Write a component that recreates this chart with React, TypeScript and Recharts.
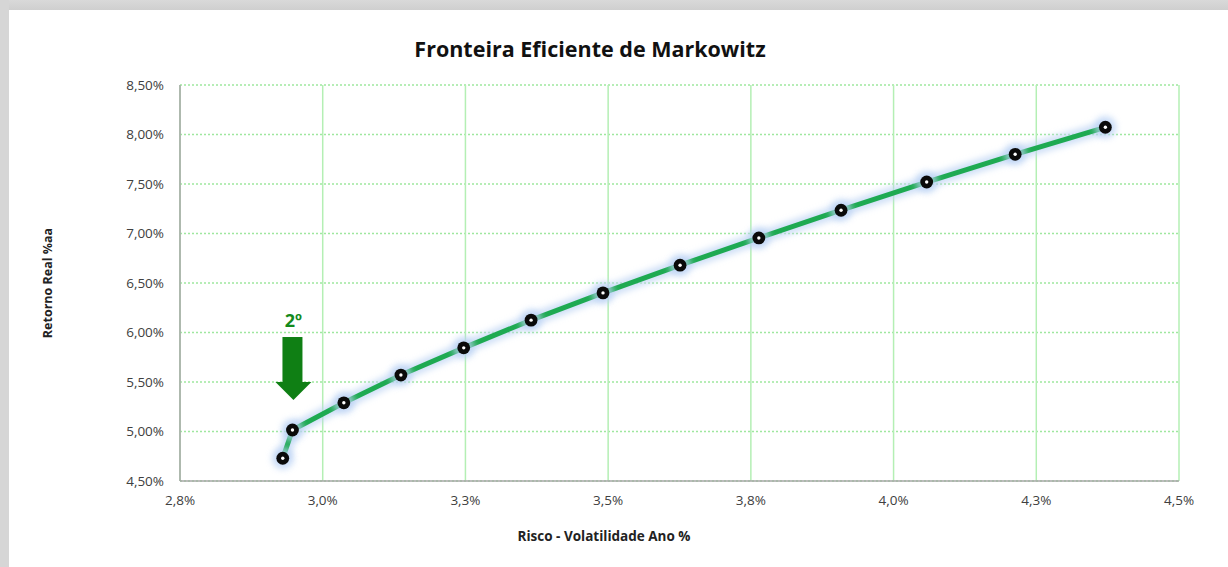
import {
  LineChart,
  Line,
  XAxis,
  YAxis,
  CartesianGrid,
  ReferenceDot,
} from 'recharts';

// risco (volatilidade % a.a.) e retorno real % a.a. de cada carteira
const RISCO = [2.93, 2.947, 3.037, 3.137, 3.247, 3.365, 3.491, 3.626, 3.764, 3.908, 4.058, 4.213, 4.371];
const RETORNO = [4.73, 5.015, 5.29, 5.57, 5.845, 6.125, 6.4, 6.68, 6.955, 7.235, 7.52, 7.8, 8.073];

const X_TICKS = [2.75, 3.0, 3.25, 3.5, 3.75, 4.0, 4.25, 4.5];
const Y_TICKS = [4.5, 5.0, 5.5, 6.0, 6.5, 7.0, 7.5, 8.0, 8.5];

// ponto destacado pela seta "2º"
const DESTAQUE = { x: RISCO[1], y: RETORNO[1], label: '2º' };

const data = RISCO.map((x, i) => ({ x, y: RETORNO[i] }));

const FONT = '"Open Sans", "Noto Sans", sans-serif';
const LINE_COLOR = '#1eaa52';
const GRID_COLOR = '#9fe79f';

const fmtX = (v: number) => v.toFixed(1).replace('.', ',') + '%';
const fmtY = (v: number) => v.toFixed(2).replace('.', ',') + '%';

const Dot = (props: any) => {
  const { cx, cy } = props;
  if (cx == null || cy == null) return null;
  return (
    <g>
      <circle cx={cx} cy={cy} r={11} fill="#b9d1f4" opacity={0.75} filter="url(#glow)" />
      <circle cx={cx} cy={cy} r={6.4} fill="#0a0a0a" />
      <circle cx={cx} cy={cy} r={1.7} fill="#ffffff" />
    </g>
  );
};

const Arrow = (props: any) => {
  const { cx, cy } = props;
  if (cx == null || cy == null) return null;
  return (
    <g>
      <text
        x={cx + 1}
        y={cy - 103}
        textAnchor="middle"
        fontFamily={FONT}
        fontWeight={700}
        fontSize={18}
        fill="#138a1c"
      >
        {DESTAQUE.label}
      </text>
      <rect x={cx - 10} y={cy - 93} width={20} height={45} fill="#0f7f14" />
      <polygon
        points={`${cx - 17},${cy - 48} ${cx + 19},${cy - 48} ${cx + 1},${cy - 30}`}
        fill="#0f7f14"
      />
    </g>
  );
};

export default function App() {
  return (
    <div
      style={{
        position: 'fixed',
        left: 0,
        top: 0,
        width: 1228,
        height: 567,
        background: '#ffffff',
        overflow: 'hidden',
        fontFamily: FONT,
      }}
    >
      {/* moldura cinza do print */}
      <div style={{ position: 'absolute', left: 0, top: 0, width: 1228, height: 10, background: 'linear-gradient(#d9d9d9, #cfcfcf)' }} />
      <div style={{ position: 'absolute', left: 0, top: 0, width: 9, height: 567, background: '#d6d6d6' }} />

      <div
        style={{
          position: 'absolute',
          left: 590,
          top: 48,
          transform: 'translate(-50%, -50%)',
          fontSize: 21.5,
          fontWeight: 700,
          color: '#111',
          whiteSpace: 'nowrap',
        }}
      >
        Fronteira Eficiente de Markowitz
      </div>

      <div
        style={{
          position: 'absolute',
          left: 47,
          top: 283,
          transform: 'translate(-50%, -50%) rotate(-90deg)',
          fontSize: 12.5,
          fontWeight: 700,
          color: '#222',
          whiteSpace: 'nowrap',
        }}
      >
        Retorno Real %aa
      </div>

      <div
        style={{
          position: 'absolute',
          left: 604,
          top: 536,
          transform: 'translate(-50%, -50%)',
          fontSize: 13.5,
          fontWeight: 700,
          color: '#222',
          whiteSpace: 'nowrap',
        }}
      >
        Risco - Volatilidade Ano %
      </div>

      <div style={{ position: 'absolute', left: 0, top: 0 }}>
        <LineChart
          width={1228}
          height={567}
          data={data}
          margin={{ top: 85, right: 49, bottom: 56, left: 110 }}
        >
          <defs>
            <filter id="glow" x="-50%" y="-50%" width="200%" height="200%">
              <feGaussianBlur stdDeviation="3" />
            </filter>
          </defs>
          <CartesianGrid
            horizontal
            vertical={false}
            stroke={GRID_COLOR}
            strokeWidth={1.5}
            strokeDasharray="2 2"
          />
          <CartesianGrid
            horizontal={false}
            vertical
            stroke="#b4efb4"
            strokeWidth={1.5}
          />
          <XAxis
            type="number"
            dataKey="x"
            domain={[2.75, 4.5]}
            ticks={X_TICKS}
            tickFormatter={fmtX}
            tickLine={false}
            tickSize={6}
            tickMargin={8}
            height={30}
            axisLine={{ stroke: '#a6a6a6', strokeWidth: 1.5 }}
            tick={{ fill: '#404040', fontSize: 13.5, fontFamily: FONT }}
            allowDataOverflow
          />
          <YAxis
            type="number"
            dataKey="y"
            domain={[4.5, 8.5]}
            ticks={Y_TICKS}
            tickFormatter={fmtY}
            tickLine={false}
            tickSize={8}
            tickMargin={8}
            width={70}
            axisLine={{ stroke: '#a6a6a6', strokeWidth: 1.5 }}
            tick={{ fill: '#404040', fontSize: 13.5, fontFamily: FONT }}
            allowDataOverflow
          />
          {/* halo azulado da linha */}
          <Line
            type="linear"
            dataKey="y"
            stroke="#bcd3f4"
            strokeWidth={13}
            strokeOpacity={0.7}
            dot={false}
            activeDot={false}
            filter="url(#glow)"
            isAnimationActive={false}
          />
          <Line
            type="linear"
            dataKey="y"
            stroke={LINE_COLOR}
            strokeWidth={5}
            dot={<Dot />}
            activeDot={false}
            isAnimationActive={false}
          />
          <ReferenceDot
            x={DESTAQUE.x}
            y={DESTAQUE.y}
            ifOverflow="visible"
            shape={<Arrow />}
          />
        </LineChart>
      </div>
    </div>
  );
}
